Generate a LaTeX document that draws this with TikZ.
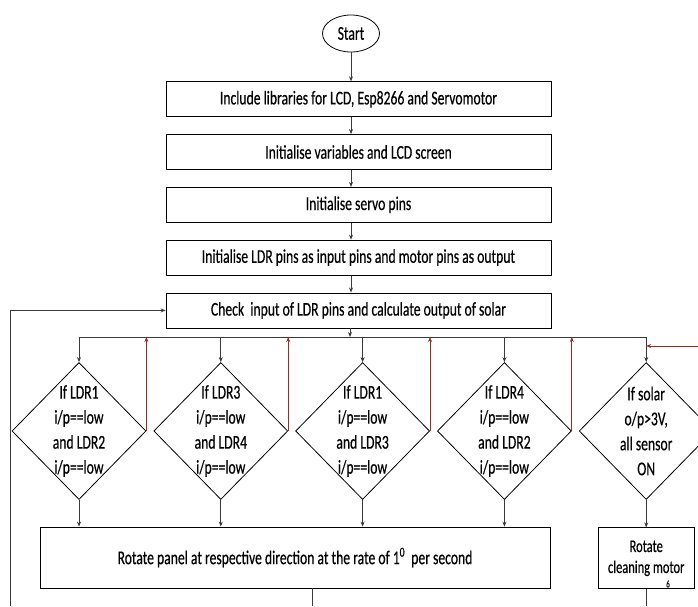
\documentclass[tikz,border=0pt]{standalone}
\usepackage{fontspec}
\setmainfont{Carlito}[FakeStretch=0.70, FakeBold=0.4]
\usetikzlibrary{arrows.meta,positioning,shapes.geometric}
\definecolor{flowred}{HTML}{9B2D20}
\definecolor{flowline}{HTML}{3A3A3A}

\begin{document}
\begin{tikzpicture}[
  x=1pt, y=-1pt,
  >={Stealth[length=5pt,width=4pt]}, font=\fontsize{19.5}{22}\selectfont,
  line width=0.8pt,
  term/.style={draw, ellipse, minimum width=57pt, minimum height=37pt, inner sep=0pt},
  stepbox/.style={draw, minimum width=385pt, minimum height=35pt, inner sep=0pt},
  dec/.style={draw, diamond, aspect=1, minimum width=134pt, minimum height=137pt, inner sep=0pt},
  dtext/.style={align=center, inner sep=0pt, font=\fontsize{19.5}{25}\selectfont},
  flow/.style={->, draw=flowline},
  back/.style={->, draw=flowred},
]
\useasboundingbox (0,0) rectangle (698,606);

\node[term] (start) at (351,33.5) {Start};
\node[stepbox] (lib) at (358.5,99.2) {Include libraries for LCD, Esp8266 and Servomotor};
\node[stepbox, below=17pt of lib] (var) {Initialise variables and LCD screen};
\node[stepbox, below=17pt of var] (servo) {Initialise servo pins};
\node[stepbox, below=17pt of servo] (pins) {Initialise LDR pins as input pins and motor pins as output};
\node[stepbox, below=17pt of pins] (chk) {Check~ input of LDR pins and calculate output of solar};

\node[dec] (d1) at (79,431) {};
\node[dec, right=7pt of d1] (d2) {};
\node[dec, right=7pt of d2] (d3) {};
\node[dec, right=7pt of d3] (d4) {};
\node[dec, right=7pt of d4] (d5) {};
\node[dtext] (t1) at (d1) {If LDR1\\i/p==low\\and LDR2\\i/p==low};
\node[dtext] (t2) at (d2) {If LDR3\\i/p==low\\and LDR4\\i/p==low};
\node[dtext] (t3) at (d3) {If LDR1\\i/p==low\\and LDR3\\i/p==low};
\node[dtext] (t4) at (d4) {If LDR4\\i/p==low\\and LDR2\\i/p==low};
\node[dtext] (t5) at (d5) {If solar\\o/p>3V,\\all sensor\\ON};

\node[draw, minimum width=510pt, minimum height=61pt] (rot) at (295,557.5)
  {Rotate panel at respective direction at the rate of 1\textsuperscript{0}~ per second};
\node[draw, minimum width=96pt, minimum height=61pt, inner sep=0pt, align=center,
  font=\fontsize{17.8}{21}\selectfont, below=27.5pt of d5] (clean) {Rotate\\cleaning motor};
\node[font=\fontsize{10}{10}\selectfont] (pg) at (668,584) {6};

\coordinate (bus) at (350,337);
\coordinate (fb) at (698,346);
\coordinate (lp) at (10,606);
\coordinate (ex1) at (312,606);

\draw[flow] (start) -- (start |- lib.north);
\draw[flow] (start |- lib.south) -- (start |- var.north);
\draw[flow] (start |- var.south) -- (start |- servo.north);
\draw[flow] (start |- servo.south) -- (start |- pins.north);
\draw[flow] (start |- pins.south) -- (start |- chk.north);
\draw[flow] (chk.south -| bus) -- (bus);
\draw[flowline] (d1.north |- bus) -- (d5.north |- bus);
\foreach \d in {d1,d2,d3,d4,d5}
  \draw[flow] (\d.north |- bus) -- (\d.north);
\foreach \d in {d1,d2,d3,d4}{
  \draw[back] (\d.east) -- (\d.east |- bus);
  \draw[flow] (\d.south) -- (\d.south |- rot.north);
}
\draw[back] (fb) -- (fb -| d5);
\draw[flow] (d5.south) -- (clean.north);
\draw[flow] (lp) |- (chk.west);
\draw[flowline] (ex1 |- rot.south) -- (ex1);
\draw[flowline] (clean.south) -- (clean.south |- ex1);
\end{tikzpicture}
\end{document}
